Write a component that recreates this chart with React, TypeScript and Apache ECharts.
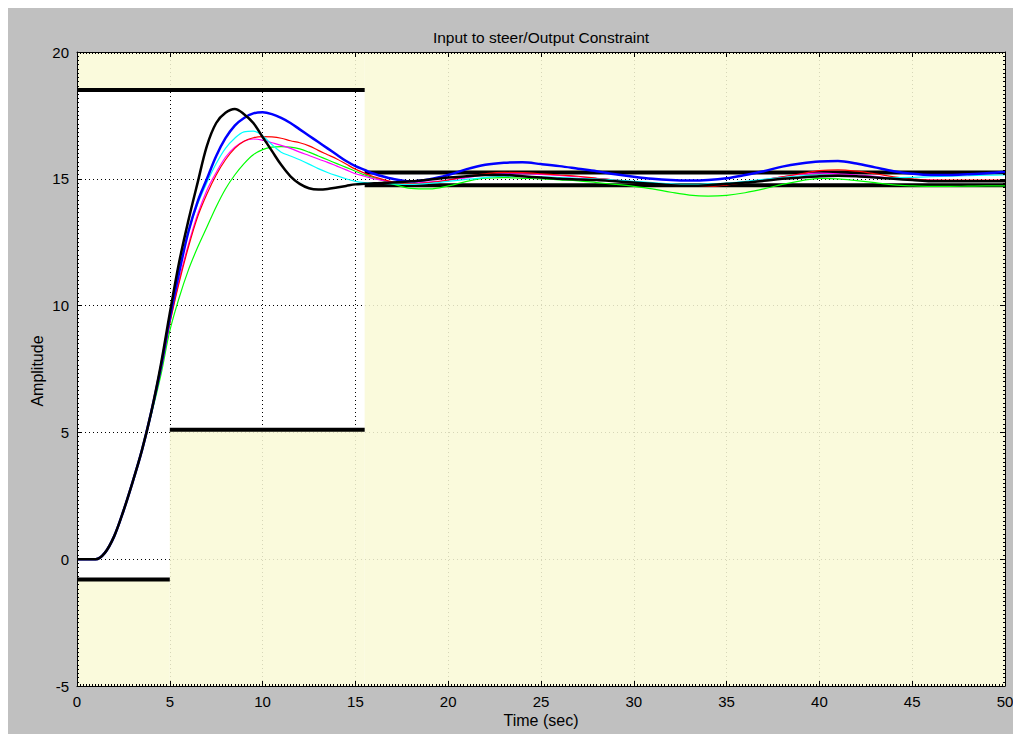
import React, { useEffect, useRef } from "react";
import * as echarts from "echarts";

// Time grid (seconds)
const timeSec = [
  0, 0.5, 1, 1.5, 2, 2.5, 3, 3.5, 4, 4.5, 5, 5.5, 6, 6.5, 7, 7.5, 8, 8.5, 9, 9.5,
  10, 10.5, 11, 11.5, 12, 12.5, 13, 13.5, 14, 14.5, 15, 15.5, 16,
  17, 18, 19, 20, 21, 22, 23, 24, 25, 26, 27, 28, 29, 30, 31, 32, 33, 34, 35,
  36, 37, 38, 39, 40, 41, 42, 43, 44, 45, 46, 47, 48, 49, 50,
];

const blackResp = [
  0, 0, 0, 0.25, 0.9, 1.9, 3.05, 4.3, 5.8, 7.6,
  9.7, 11.7, 13.35, 14.85, 16.3, 17.2, 17.6, 17.75, 17.55, 17.2, 16.65, 16.1, 15.55, 15.1, 14.8, 14.63, 14.58, 14.6, 14.66, 14.72, 14.78, 14.8, 14.82,
  14.85, 14.9, 14.97, 15.05, 15.1, 15.15, 15.15, 15.1, 15.05, 15.0,
  14.97, 14.95, 14.9, 14.85, 14.8, 14.75, 14.73, 14.75, 14.8, 14.85,
  14.92, 15.0, 15.05, 15.1, 15.12, 15.1, 15.05, 15.0, 14.95, 14.9,
  14.9, 14.9, 14.9, 14.9,
];

const blueResp = [
  0, 0, 0, 0.25, 0.9, 1.9, 3.05, 4.3, 5.8, 7.5,
  9.5, 11.3, 12.9, 14.1, 15.0, 15.9, 16.6, 17.1, 17.4, 17.58, 17.62, 17.55, 17.4, 17.2, 16.95, 16.7, 16.45, 16.2, 15.95, 15.7, 15.5, 15.35, 15.2,
  15.0, 14.9, 14.98, 15.15, 15.38, 15.55, 15.63, 15.65, 15.58, 15.5,
  15.4, 15.3, 15.18, 15.08, 15.0, 14.95, 14.93, 14.95, 15.02, 15.15,
  15.3, 15.48, 15.6, 15.68, 15.7, 15.6, 15.45, 15.3, 15.2, 15.15,
  15.15, 15.18, 15.22, 15.28,
];

const cyanResp = [
  0, 0, 0, 0.25, 0.9, 1.9, 3.05, 4.3, 5.8, 7.5,
  9.5, 11.3, 12.9, 14.0, 14.85, 15.6, 16.2, 16.6, 16.85, 16.88, 16.7, 16.35, 16.05, 15.9, 15.75, 15.58, 15.4, 15.25, 15.12, 15.0, 14.9, 14.85, 14.83,
  14.8, 14.78, 14.82, 14.9, 14.98, 15.05, 15.1, 15.1, 15.08, 15.05,
  15.02, 15.0, 14.95, 14.9, 14.85, 14.8, 14.78, 14.8, 14.83, 14.9,
  14.98, 15.05, 15.12, 15.15, 15.12, 15.1, 15.06, 15.05, 15.06, 15.08,
  15.1, 15.12, 15.14, 15.15,
];

const redResp = [
  0, 0, 0, 0.25, 0.9, 1.9, 3.05, 4.3, 5.8, 7.4,
  9.3, 10.9, 12.3, 13.5, 14.4, 15.15, 15.75, 16.2, 16.48, 16.62, 16.66, 16.65, 16.6, 16.5, 16.42, 16.3, 16.12, 15.95, 15.78, 15.58, 15.38, 15.22, 15.08,
  14.88, 14.8, 14.85, 14.95, 15.1, 15.2, 15.25, 15.24, 15.2, 15.15,
  15.1, 15.02, 14.95, 14.88, 14.8, 14.75, 14.7, 14.7, 14.75, 14.85,
  14.95, 15.08, 15.2, 15.32, 15.35, 15.3, 15.2, 15.08, 15.0, 14.95,
  14.95, 14.95, 14.95, 14.95,
];

const magentaResp = [
  0, 0, 0, 0.25, 0.9, 1.9, 3.05, 4.3, 5.8, 7.4,
  9.3, 11.0, 12.4, 13.6, 14.55, 15.25, 15.85, 16.25, 16.48, 16.57, 16.52, 16.42, 16.32, 16.2, 16.05, 15.92, 15.78, 15.65, 15.5, 15.35, 15.2, 15.1, 15.0,
  14.87, 14.83, 14.88, 14.95, 15.05, 15.15, 15.2, 15.2, 15.17, 15.13,
  15.08, 15.02, 14.95, 14.88, 14.82, 14.78, 14.75, 14.75, 14.8, 14.88,
  14.97, 15.08, 15.18, 15.22, 15.2, 15.15, 15.1, 15.02, 14.97, 14.95,
  14.93, 14.92, 14.9, 14.9,
];

const greenResp = [
  0, 0, 0, 0.25, 0.9, 1.9, 3.05, 4.3, 5.7, 7.2,
  9.0, 10.3, 11.4, 12.3, 13.1, 13.9, 14.6, 15.15, 15.6, 15.95, 16.15, 16.25, 16.27, 16.25, 16.18, 16.05, 15.9, 15.75, 15.6, 15.45, 15.3, 15.15, 15.05,
  14.8, 14.62, 14.6, 14.72, 14.9, 15.03, 15.05, 15.02, 15.0, 14.96,
  14.92, 14.85, 14.78, 14.7, 14.6, 14.47, 14.36, 14.32, 14.35, 14.45,
  14.6, 14.78, 14.92, 15.02, 15.0, 14.93, 14.85, 14.76, 14.72, 14.7,
  14.7, 14.71, 14.72, 14.72,
];

// Constraint segments: [tStart, tEnd, level]
const upperBounds = [
  [0, 15.5, 18.5],
  [15.5, 50, 15.25],
];
const lowerBounds = [
  [0, 5, -0.8],
  [5, 15.5, 5.1],
  [15.5, 50, 14.75],
];

const xTicks = { min: 0, max: 50, step: 5 };
const yTicks = { min: -5, max: 20, step: 5 };

const FONT = "'Liberation Sans', Arial, Helvetica, sans-serif";

function buildOption() {
  const curves = [
    { name: "green", data: greenResp, color: "#00ff00", width: 1.2 },
    { name: "magenta", data: magentaResp, color: "#ff00ff", width: 1.2 },
    { name: "red", data: redResp, color: "#ff0000", width: 1.2 },
    { name: "cyan", data: cyanResp, color: "#00ffff", width: 1.2 },
    { name: "blue", data: blueResp, color: "#0000ff", width: 2.5 },
    { name: "black", data: blackResp, color: "#000000", width: 2.5 },
  ];

  const yellowAreas: any[] = [];
  upperBounds.forEach(([a, b, v]) => {
    yellowAreas.push([{ coord: [a, v] }, { coord: [b, yTicks.max] }]);
  });
  lowerBounds.forEach(([a, b, v]) => {
    yellowAreas.push([{ coord: [a, yTicks.min] }, { coord: [b, v] }]);
  });

  const series: any[] = [];
  series.push({
    type: "line",
    name: "areas",
    xAxisIndex: 0,
    yAxisIndex: 0,
    data: [[0, 18.5], [15.5, 18.5]],
    symbol: "none",
    lineStyle: { opacity: 0, width: 0 },
    silent: true,
    z: 1,
    markArea: {
      silent: true,
      itemStyle: { color: "rgba(249,249,214,0.86)", borderWidth: 0 },
      data: yellowAreas,
    },
  });

  [...upperBounds, ...lowerBounds].forEach(([a, b, v], i) => {
    series.push({
      type: "line",
      name: "bound" + i,
      xAxisIndex: 0,
      yAxisIndex: 0,
      data: [[a, v], [b, v]],
      symbol: "none",
      lineStyle: { color: "#000", width: 4 },
      silent: true,
      z: 3,
    });
  });

  curves.forEach((c, i) => {
    series.push({
      type: "line",
      name: c.name,
      xAxisIndex: 0,
      yAxisIndex: 0,
      data: timeSec.map((t, k) => [t, c.data[k]]),
      symbol: "none",
      smooth: 0.35,
      lineStyle: { color: c.color, width: c.width },
      silent: true,
      z: 4 + i,
    });
  });

  const frameAxis = (pos: string, labels: boolean) => ({
    type: "value",
    position: pos,
    z: 20,
    axisLine: { show: true, onZero: false, lineStyle: { color: "#000", width: 1 } },
    axisTick: { show: true, inside: true, length: 5, lineStyle: { color: "#000" } },
    minorTick: { show: true, splitNumber: 30, length: 2, lineStyle: { color: "#000" } },
    axisLabel: labels
      ? { show: true, color: "#000", fontSize: 15, fontFamily: FONT, margin: 8 }
      : { show: false },
    splitLine: { show: false },
  });
  const gridAxis = (pos: string) => ({
    type: "value",
    position: pos,
    z: 0,
    axisLine: { show: false },
    axisTick: { show: false },
    axisLabel: { show: false },
    splitLine: { show: true, lineStyle: { color: "#000", width: 1, type: [1, 3] } },
  });
  const xr = { min: xTicks.min, max: xTicks.max, interval: xTicks.step };
  const yr = { min: yTicks.min, max: yTicks.max, interval: yTicks.step };

  return {
    animation: false,
    backgroundColor: "#c0c0c0",
    grid: {
      left: 69,
      right: 16,
      top: 44,
      bottom: 48,
      show: true,
      backgroundColor: "#ffffff",
      borderWidth: 0,
    },
    xAxis: [
      { ...frameAxis("bottom", true), ...xr },
      { ...frameAxis("top", false), ...xr },
      { ...gridAxis("bottom"), ...xr },
    ],
    yAxis: [
      { ...frameAxis("left", true), ...yr },
      { ...frameAxis("right", false), ...yr },
      { ...gridAxis("left"), ...yr },
    ],
    graphic: [
      {
        type: "text",
        x: 533,
        y: 29,
        style: {
          text: "Input to steer/Output Constraint",
          fontSize: 15.5,
          fontFamily: FONT,
          fill: "#000",
          textAlign: "center",
          textVerticalAlign: "middle",
        },
      },
      {
        type: "text",
        x: 533,
        y: 712,
        style: {
          text: "Time (sec)",
          fontSize: 16,
          fontFamily: FONT,
          fill: "#000",
          textAlign: "center",
          textVerticalAlign: "middle",
        },
      },
      {
        type: "text",
        x: 29,
        y: 363,
        rotation: Math.PI / 2,
        style: {
          text: "Amplitude",
          fontSize: 16,
          fontFamily: FONT,
          fill: "#000",
          textAlign: "center",
          textVerticalAlign: "middle",
        },
      },
    ],
    series,
  };
}

export default function App() {
  const ref = useRef<HTMLDivElement>(null);
  useEffect(() => {
    document.documentElement.style.overflow = "hidden";
    const chart = echarts.init(ref.current as HTMLDivElement, null, { renderer: "svg" });
    chart.setOption(buildOption() as any);
    return () => chart.dispose();
  }, []);
  return <div ref={ref} style={{ width: 1013, height: 726, background: "#c0c0c0" }} />;
}
